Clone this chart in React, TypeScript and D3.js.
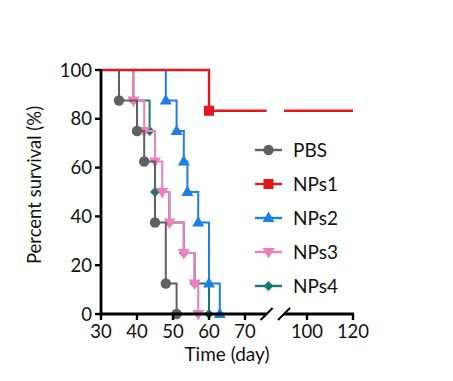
import React from "react";
import * as d3 from "d3";

// ---- data ----
const seriesNames = ["PBS", "NPs1", "NPs2", "NPs3", "NPs4"];
const pbsTimes = [35, 40, 42, 45, 48, 51];
const pbsSurv = [87.5, 75, 62.5, 37.5, 12.5, 0];
const nps1Times = [60];
const nps1Surv = [83.3];
const nps2Times = [48, 51, 53, 54, 57, 60, 63];
const nps2Surv = [87.5, 75, 62.5, 50, 37.5, 12.5, 0];
const nps3Times = [39, 42, 45, 47, 49, 53, 56, 57];
const nps3Surv = [87.5, 75, 62.5, 50, 37.5, 25, 12.5, 0];
const nps4Times = [39, 43.5, 45, 49, 53, 56, 60];
const nps4Surv = [87.5, 75, 50, 37.5, 25, 12.5, 0];
const xTicksLeft = [30, 40, 50, 60, 70];
const xTicksRight = [100, 120];
const yTicks = [0, 20, 40, 60, 80, 100];
const studyEnd = 120;

const colors: Record<string, string> = {
  PBS: "#606060",
  NPs1: "#e5161c",
  NPs2: "#1c7ee6",
  NPs3: "#f07fbf",
  NPs4: "#177a72",
};

const W = 453, H = 381;
const xL = d3.scaleLinear().domain([30, 76]).range([101, 266.6]);
const xR = d3.scaleLinear().domain([90, 120]).range([284, 353]);
const y = d3.scaleLinear().domain([0, 100]).range([314, 70]);
const FONT = "Lato, 'Open Sans', sans-serif";

function Marker({ name, cx, cy }: { name: string; cx: number; cy: number }) {
  const c = colors[name];
  if (name === "PBS") return <circle cx={cx} cy={cy} r={5.2} fill={c} />;
  if (name === "NPs1") return <rect x={cx - 5} y={cy - 5} width={10} height={10} fill={c} />;
  if (name === "NPs2")
    return <path d={`M${cx},${cy - 6.5} L${cx + 6},${cy + 4} L${cx - 6},${cy + 4}Z`} fill={c} />;
  if (name === "NPs3")
    return <path d={`M${cx},${cy + 6.5} L${cx + 6},${cy - 4} L${cx - 6},${cy - 4}Z`} fill={c} />;
  return <path d={`M${cx},${cy - 5} L${cx + 5},${cy} L${cx},${cy + 5} L${cx - 5},${cy}Z`} fill={c} />;
}

export default function App() {
  const stepLine = d3
    .line<[number, number]>()
    .x((d) => xL(d[0]))
    .y((d) => y(d[1]))
    .curve(d3.curveStepAfter);

  const mk = (times: number[], surv: number[]): [number, number][] => [
    [30, 100],
    ...times.map((t, i) => [t, surv[i]] as [number, number]),
  ];

  const series = [
    { name: "NPs4", times: nps4Times, surv: nps4Surv },
    { name: "NPs3", times: nps3Times, surv: nps3Surv },
    { name: "PBS", times: pbsTimes, surv: pbsSurv },
    { name: "NPs2", times: nps2Times, surv: nps2Surv },
  ];

  const nps1Left: [number, number][] = [...mk(nps1Times, nps1Surv), [76, nps1Surv[nps1Surv.length - 1]]];
  const nps1Last = nps1Surv[nps1Surv.length - 1];

  const axisY = y(0);
  const legendY = [150, 184, 218, 252, 286];

  return (
    <svg width={W} height={H} style={{ position: "absolute", left: 0, top: 0, background: "#fff" }}>
      {/* series */}
      {series.map((s) => (
        <g key={s.name}>
          <path d={stepLine(mk(s.times, s.surv)) || ""} fill="none" stroke={colors[s.name]} strokeWidth={2} />
          {s.times.map((t, i) => (
            <Marker key={i} name={s.name} cx={xL(t)} cy={y(s.surv[i])} />
          ))}
        </g>
      ))}
      {/* NPs1 */}
      <path d={stepLine(nps1Left) || ""} fill="none" stroke={colors.NPs1} strokeWidth={2.4} />
      <line x1={xR(90)} x2={xR(studyEnd)} y1={y(nps1Last)} y2={y(nps1Last)} stroke={colors.NPs1} strokeWidth={2.4} />
      {nps1Times.map((t, i) => (
        <Marker key={i} name="NPs1" cx={xL(t)} cy={y(nps1Surv[i])} />
      ))}

      {/* y axis */}
      <line x1={101} x2={101} y1={y(100) - 1} y2={axisY + 1.5} stroke="#000" strokeWidth={2.8} />
      {yTicks.map((v) => (
        <g key={v}>
          <line x1={95} x2={101} y1={y(v)} y2={y(v)} stroke="#000" strokeWidth={2.4} />
          <text x={92} y={y(v)} dy="0.36em" textAnchor="end" fontFamily={FONT} fontSize={18.5} fill="#111">
            {v}
          </text>
        </g>
      ))}
      {/* x axis */}
      <line x1={100} x2={xL(76)} y1={axisY} y2={axisY} stroke="#000" strokeWidth={2.8} />
      <line x1={xR(90)} x2={xR(120) + 1} y1={axisY} y2={axisY} stroke="#000" strokeWidth={2.8} />
      <line x1={xL(76) - 6} y1={axisY + 6} x2={xL(76) + 6} y2={axisY - 6} stroke="#000" strokeWidth={2} />
      <line x1={xR(90) - 6} y1={axisY + 6} x2={xR(90) + 6} y2={axisY - 6} stroke="#000" strokeWidth={2} />
      {xTicksLeft.map((v) => (
        <g key={v}>
          <line x1={xL(v)} x2={xL(v)} y1={axisY} y2={axisY + 6} stroke="#000" strokeWidth={2.4} />
          <text x={xL(v)} y={338} textAnchor="middle" fontFamily={FONT} fontSize={18.5} fill="#111">
            {v}
          </text>
        </g>
      ))}
      {xTicksRight.map((v) => (
        <g key={v}>
          <line x1={xR(v)} x2={xR(v)} y1={axisY} y2={axisY + 6} stroke="#000" strokeWidth={2.4} />
          <text x={xR(v)} y={338} textAnchor="middle" fontFamily={FONT} fontSize={18.5} fill="#111">
            {v}
          </text>
        </g>
      ))}
      <text x={227} y={361} textAnchor="middle" fontFamily={FONT} fontSize={19} fill="#111">
        Time (day)
      </text>
      <text
        transform={`translate(41,185) rotate(-90)`}
        textAnchor="middle"
        fontFamily={FONT}
        fontSize={18.5}
        fill="#111"
      >
        Percent survival (%)
      </text>

      {/* legend */}
      {seriesNames.map((n, i) => (
        <g key={n}>
          <line x1={255} x2={282} y1={legendY[i]} y2={legendY[i]} stroke={colors[n]} strokeWidth={2.4} />
          <Marker name={n} cx={268.5} cy={legendY[i]} />
          <text x={293} y={legendY[i]} dy="0.36em" fontFamily={FONT} fontSize={19} fill="#111">
            {n}
          </text>
        </g>
      ))}
    </svg>
  );
}
